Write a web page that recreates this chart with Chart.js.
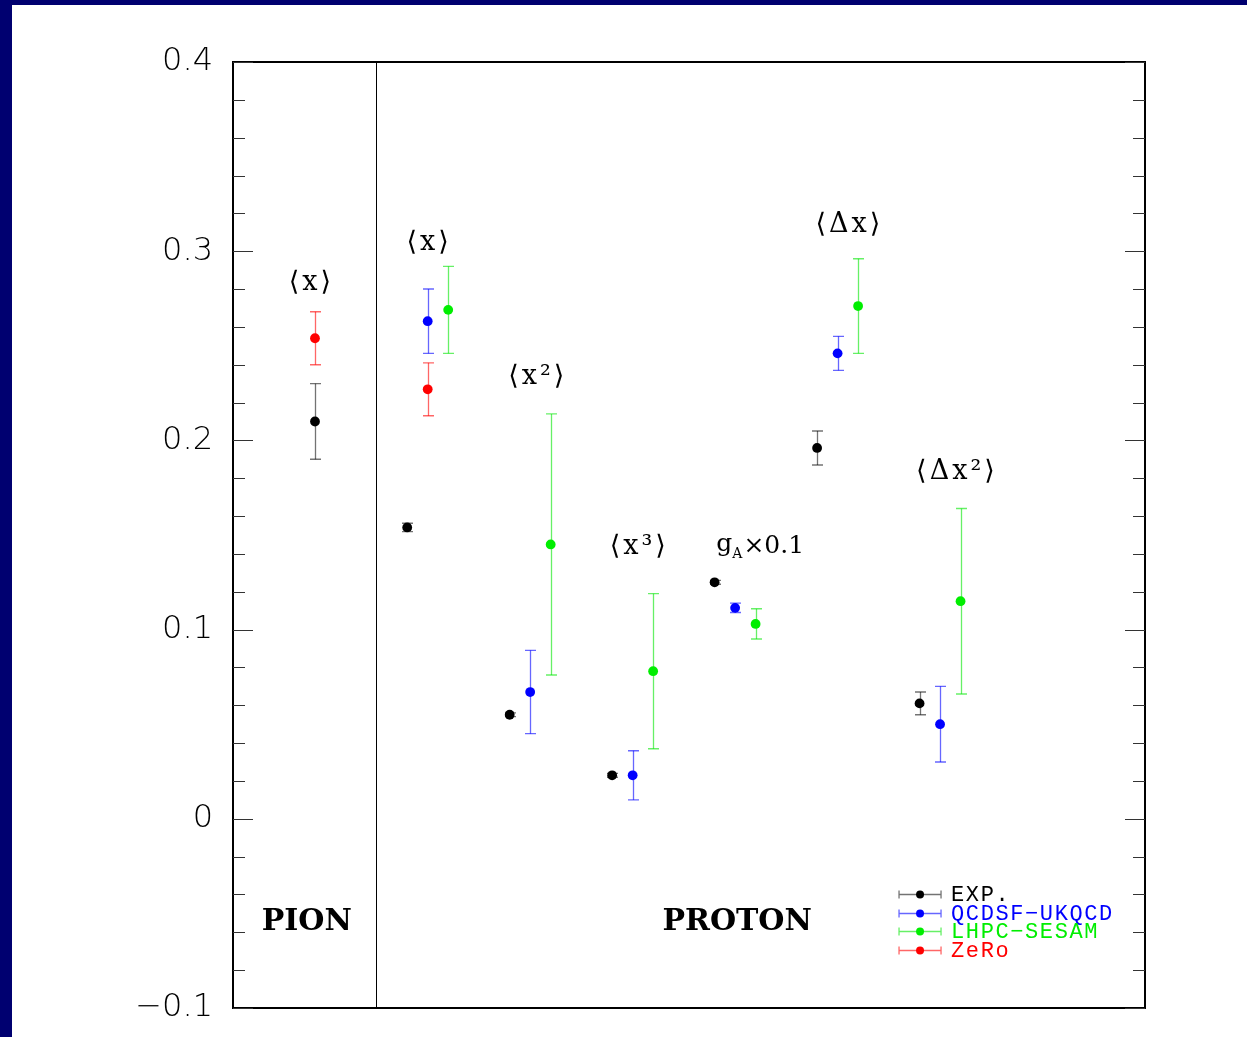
<!DOCTYPE html>
<html>
<head>
<meta charset="utf-8">
<script src="https://cdn.jsdelivr.net/npm/chart.js@4.4.1/dist/chart.umd.min.js"></script>
<style>
  html, body { margin: 0; padding: 0; background: #000070; width: 1247px; height: 1037px; overflow: hidden; }
  #wrap { position: absolute; left: 12px; top: 5px; width: 1235px; height: 1032px; background: #ffffff; }
</style>
</head>
<body>
<div id="wrap"><canvas id="c"></canvas></div>
<script>
// ---- data ----
const categories = ['PION \u27E8x\u27E9', '\u27E8x\u27E9', '\u27E8x\u00B2\u27E9', '\u27E8x\u00B3\u27E9', 'gA\u00D70.1', '\u27E8\u0394x\u27E9', '\u27E8\u0394x\u00B2\u27E9'];
const catPos = [-0.1, 1, 2, 3, 4, 5, 6];
const expX    = [-0.1, 0.8, 1.8, 2.8, 3.8, 4.8, 5.8];
const expVal  = [0.210, 0.154, 0.055, 0.023, 0.125, 0.196, 0.061];
const expErr  = [0.020, 0.0022, 0.001, 0.001, 0.001, 0.009, 0.006];
const qcdX    = [null, 1.0, 2.0, 3.0, 4.0, 5.0, 6.0];
const qcdVal  = [null, 0.263, 0.067, 0.023, 0.1115, 0.246, 0.050];
const qcdErr  = [null, 0.017, 0.022, 0.013, 0.0025, 0.009, 0.020];
const lhpX    = [null, 1.2, 2.2, 3.2, 4.2, 5.2, 6.2];
const lhpVal  = [null, 0.269, 0.145, 0.078, 0.103, 0.271, 0.115];
const lhpErr  = [null, 0.023, 0.069, 0.041, 0.008, 0.025, 0.049];
const zeroX   = [-0.1, 1.0];
const zeroVal = [0.254, 0.227];
const zeroErr = [0.014, 0.014];
const yTicksMajor = [-0.1, 0, 0.1, 0.2, 0.3, 0.4];
const legendLabels = ['EXP.', 'QCDSF\u2212UKQCD', 'LHPC\u2212SESAM', 'ZeRo'];
// annotation label anchors (data coordinates)
const annotations = [
  { text: '\u27E8x\u27E9', x: -0.15, y: 0.283 },
  { text: '\u27E8x\u27E9', x: 1.0, y: 0.3044 },
  { text: '\u27E8x\u00B2\u27E9', x: 2.06, y: 0.2336 },
  { text: '\u27E8x\u00B3\u27E9', x: 3.05, y: 0.1438 },
  { text: 'gA', x: 4.24, y: 0.1438 },
  { text: '\u27E8\u0394x\u27E9', x: 5.10, y: 0.314 },
  { text: '\u27E8\u0394x\u00B2\u27E9', x: 6.15, y: 0.1834 }
];
const groupLabels = [
  { text: 'PION', x: -0.18, y: -0.0548 },
  { text: 'PROTON', x: 4.02, y: -0.0548 }
];
const dividerX = 0.5;

const COLORS = ['#000000', '#0000ff', '#00ee00', '#ff0000'];
const ERRCOL = ['rgba(0,0,0,0.55)', 'rgba(0,0,255,0.6)', 'rgba(0,230,0,0.6)', 'rgba(255,0,0,0.6)'];

function pts(xs, vs) {
  const out = [];
  for (let i = 0; i < vs.length; i++) if (vs[i] !== null) out.push({ x: xs[i], y: vs[i] });
  return out;
}
function errs(vs, es) { return es.filter((e, i) => vs[i] !== null); }

const datasets = [
  { label: legendLabels[0], data: pts(expX, expVal), errors: errs(expVal, expErr) },
  { label: legendLabels[1], data: pts(qcdX, qcdVal), errors: errs(qcdVal, qcdErr) },
  { label: legendLabels[2], data: pts(lhpX, lhpVal), errors: errs(lhpVal, lhpErr) },
  { label: legendLabels[3], data: pts(zeroX, zeroVal), errors: zeroErr }
].map((d, i) => Object.assign(d, {
  backgroundColor: COLORS[i], borderColor: COLORS[i], borderWidth: 0,
  pointRadius: 4.9, pointHoverRadius: 4.9, errColor: ERRCOL[i]
}));

const decorPlugin = {
  id: 'decor',
  beforeDatasetsDraw(chart) {
    const { ctx, scales: { x, y } } = chart;
    ctx.save();
    chart.data.datasets.forEach(ds => {
      ds.data.forEach((p, i) => {
        const e = ds.errors[i];
        const px = Math.round(x.getPixelForValue(p.x)) + 0.5;
        const yt = y.getPixelForValue(p.y + e), yb = y.getPixelForValue(p.y - e);
        ctx.strokeStyle = ds.errColor;
        ctx.lineWidth = 1.3;
        ctx.beginPath(); ctx.moveTo(px, yt); ctx.lineTo(px, yb); ctx.stroke();
        ctx.lineWidth = 1.4;
        ctx.beginPath();
        ctx.moveTo(px - 5.5, yt); ctx.lineTo(px + 5.5, yt);
        ctx.moveTo(px - 5.5, yb); ctx.lineTo(px + 5.5, yb);
        ctx.stroke();
      });
    });
    ctx.restore();
  },
  afterDraw(chart) {
    const { ctx, chartArea: a, scales: { x, y } } = chart;
    ctx.save();
    // frame
    ctx.strokeStyle = '#000'; ctx.lineWidth = 2;
    ctx.strokeRect(a.left, a.top, a.right - a.left, a.bottom - a.top);
    // divider
    const dx = Math.round(x.getPixelForValue(dividerX)) + 0.5;
    ctx.lineWidth = 1;
    ctx.beginPath(); ctx.moveTo(dx, a.top); ctx.lineTo(dx, a.bottom); ctx.stroke();
    // inward ticks on both sides
    ctx.strokeStyle = '#333'; ctx.lineWidth = 1.2;
    y.ticks.forEach(t => {
      const major = yTicksMajor.some(m => Math.abs(m - t.value) < 1e-6);
      const len = major ? 20 : 12;
      const py = Math.round(y.getPixelForValue(t.value)) + 0.5;
      ctx.beginPath();
      ctx.moveTo(a.left, py); ctx.lineTo(a.left + len, py);
      ctx.moveTo(a.right - len, py); ctx.lineTo(a.right, py);
      ctx.stroke();
    });
    // annotations
    ctx.fillStyle = '#000';
    ctx.textBaseline = 'middle';
    annotations.forEach(an => {
      const px = x.getPixelForValue(an.x), py = y.getPixelForValue(an.y);
      if (an.text === 'gA') {
        ctx.letterSpacing = '0px';
        ctx.font = '25px "DejaVu Serif"';
        const w1 = ctx.measureText('g').width;
        const w3 = ctx.measureText('\u00D70.1').width;
        ctx.font = '14px "DejaVu Serif"';
        const w2 = ctx.measureText('A').width;
        let sx = px - (w1 + w2 + w3) / 2;
        ctx.textAlign = 'left';
        ctx.font = '25px "DejaVu Serif"';
        ctx.fillText('g', sx, py - 2);
        ctx.font = '14px "DejaVu Serif"';
        ctx.fillText('A', sx + w1, py + 8);
        ctx.font = '25px "DejaVu Serif"';
        ctx.fillText('\u00D70.1', sx + w1 + w2 + 1, py);
      } else {
        ctx.font = '27px "DejaVu Serif"';
        ctx.letterSpacing = '3px';
        ctx.textAlign = 'center';
        ctx.fillText(an.text, px + 1.5, py);
        ctx.letterSpacing = '0px';
      }
    });
    // group labels
    ctx.font = 'bold 30px "DejaVu Serif"';
    ctx.textAlign = 'center';
    groupLabels.forEach(g => ctx.fillText(g.text, x.getPixelForValue(g.x), y.getPixelForValue(g.y)));
    // legend
    const W = a.right - a.left, H = a.bottom - a.top;
    const lx = a.left + 0.7303 * W;
    chart.data.datasets.forEach((ds, i) => {
      const ly = Math.round(a.top + (0.8795 + i * 0.0198) * H) + 0.5;
      ctx.strokeStyle = ds.errColor; ctx.lineWidth = 1.3;
      ctx.beginPath();
      ctx.moveTo(lx, ly); ctx.lineTo(lx + 42, ly);
      ctx.moveTo(lx, ly - 4); ctx.lineTo(lx, ly + 4);
      ctx.moveTo(lx + 42, ly - 4); ctx.lineTo(lx + 42, ly + 4);
      ctx.stroke();
      ctx.fillStyle = ds.backgroundColor;
      ctx.beginPath(); ctx.arc(lx + 21, ly, 4, 0, Math.PI * 2); ctx.fill();
      ctx.font = '22px "Liberation Mono"';
      ctx.letterSpacing = '1.6px';
      ctx.textAlign = 'left';
      ctx.fillText(ds.label, lx + 52, ly + 1);
      ctx.letterSpacing = '0px';
    });
    ctx.restore();
  }
};

new Chart(document.getElementById('c'), {
  type: 'scatter',
  data: { datasets },
  options: {
    responsive: true,
    maintainAspectRatio: false,
    animation: false,
    events: [],
    layout: { padding: { left: 0, top: 57, right: 102, bottom: 29 } },
    plugins: { legend: { display: false }, tooltip: { enabled: false } },
    scales: {
      x: { type: 'linear', min: -0.9, max: 8, display: false },
      y: {
        type: 'linear', min: -0.1, max: 0.4,
        grid: { display: false, drawTicks: false },
        border: { display: false },
        ticks: {
          stepSize: 0.02, autoSkip: false, padding: 20, color: '#000',
          font: { family: 'DejaVu Sans', size: 32, weight: 200 },
          callback(v) {
            const r = Math.round(v * 10);
            if (Math.abs(v * 10 - r) > 1e-6) return '';
            if (r === 0) return '0';
            return (r < 0 ? '\u2212' : '') + (Math.abs(r) / 10).toFixed(1);
          }
        },
        afterFit(scale) {
          scale.width = 221;
          scale.paddingTop = 0;
          scale.paddingBottom = 0;
        }
      }
    }
  },
  plugins: [decorPlugin]
});
</script>
</body>
</html>
